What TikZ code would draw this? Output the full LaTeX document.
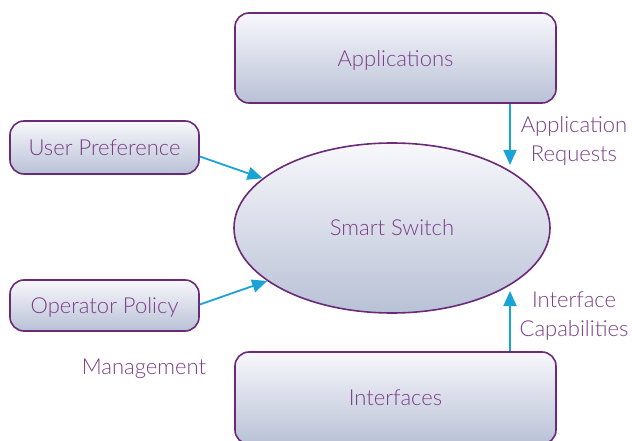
\documentclass[tikz,border=0pt]{standalone}
\usepackage{fontspec}
\setmainfont{Lato Light}
\usetikzlibrary{arrows.meta,shapes.geometric}
\definecolor{bord}{HTML}{6A2A78}
\definecolor{txt}{HTML}{7A3E87}
\definecolor{ftop}{HTML}{F8F8FC}
\definecolor{fbot}{HTML}{B9C1D6}
\definecolor{arr}{HTML}{1AA3D6}
\tikzset{
  box/.style={draw=bord, line width=1.6pt, rounded corners=14pt, top color=ftop, bottom color=fbot,
    text=txt, font=\fontsize{22}{24}\selectfont, inner sep=0pt, text depth=0pt},
  lbl/.style={text=txt, font=\fontsize{22}{29}\selectfont, align=center, inner sep=0pt},
  flow/.style={draw=arr, line width=1.8pt, -{Triangle[length=15pt,width=13pt]}}
}
\begin{document}
\begin{tikzpicture}[x=1pt,y=-1pt]
\useasboundingbox (0,0) rectangle (632,441);
\node[box, minimum width=321pt, minimum height=90pt] (app) at (395.5,58) {Applications};
\node[box, minimum width=189pt, minimum height=53pt] (up) at (104.5,147.5) {User Preference};
\node[box, minimum width=189pt, minimum height=51pt] (op) at (104.5,305.5) {Operator Policy};
\node[draw=bord, line width=1.6pt, ellipse, top color=ftop, bottom color=fbot, minimum width=316pt, minimum height=170pt,
  inner sep=0pt, text=txt, font=\fontsize{22}{24}\selectfont] (ss) at (392,228) {Smart Switch};
\node[box, minimum width=321pt, minimum height=92pt] (ifc) at (395.5,398) {Interfaces};
\node[lbl] (mg) at (144,369) {Management};
\node[lbl] (areq) at (574,141) {Application\\Requests};
\node[lbl] (icap) at (574,316) {Interface\\Capabilities};
\coordinate (reqend) at (510,165);
\coordinate (capend) at (510,291);
\draw[flow] (app.south -| reqend) -- (reqend);
\draw[flow] (ifc.north -| capend) -- (capend);
\draw[flow] ([yshift=-9pt]up.east) -- (ss.159);
\draw[flow] ([yshift=1pt]op.east) -- (ss.203);
\end{tikzpicture}
\end{document}
